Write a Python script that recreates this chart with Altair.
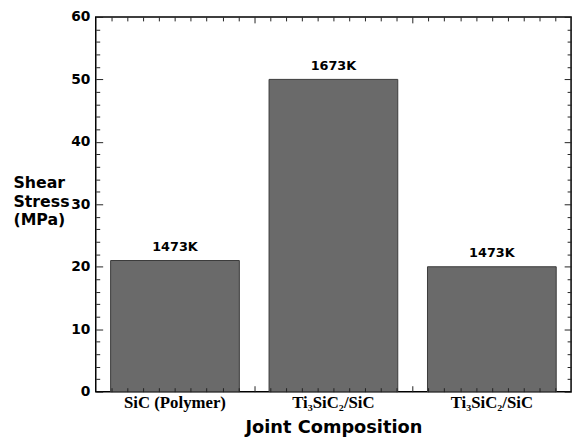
import json
import altair as alt
import pandas as pd

categories = ["SiC (Polymer)", "Ti₃SiC₂/SiC", "Ti₃SiC₂/SiC"]
stress = [21, 50, 20]
temps = ["1473K", "1673K", "1473K"]

y_major = [0, 10, 20, 30, 40, 50, 60]
y_minor = [2, 4, 6, 8, 12, 14, 16, 18, 22, 24, 26, 28, 32, 34, 36, 38,
           42, 44, 46, 48, 52, 54, 56, 58]
x_major = [1, 2]
x_minor = [0.1, 0.2, 0.3, 0.4, 0.5, 0.6, 0.7, 0.8, 0.9,
           1.1, 1.2, 1.3, 1.4, 1.5, 1.6, 1.7, 1.8, 1.9,
           2.1, 2.2, 2.3, 2.4, 2.5, 2.6, 2.7, 2.8, 2.9]

df = pd.DataFrame({"idx": list(range(len(categories))), "cat": categories,
                   "stress": stress, "temp": temps})
dummy = pd.DataFrame({"v": [0]})

SANS = "DejaVu Sans"
SERIF = "Liberation Serif"
label_expr = json.dumps(categories, ensure_ascii=False) + "[datum.value]"
TICK = "#222222"

bars = alt.Chart(df).mark_bar(color="#6a6a6a", stroke="#3a3a3a", strokeWidth=1).encode(
    x=alt.X("idx:O",
            scale=alt.Scale(paddingInner=0.1875, paddingOuter=0.09375),
            axis=alt.Axis(orient="bottom", labelExpr=label_expr, labelAngle=0,
                          ticks=False, domain=False, grid=False,
                          labelFont=SERIF, labelFontWeight="bold", labelFontSize=17,
                          labelColor="black", labelPadding=3,
                          title="Joint Composition", titleFont=SANS,
                          titleFontSize=18, titleFontWeight="bold",
                          titleColor="black", titlePadding=8)),
    y=alt.Y("stress:Q",
            scale=alt.Scale(domain=[0, 60], nice=False, zero=True),
            axis=alt.Axis(orient="left", values=y_major, tickSize=7, offset=-7,
                          tickColor=TICK, tickWidth=1, domain=False, grid=False,
                          labelFont=SANS, labelFontWeight="bold", labelFontSize=14,
                          labelColor="black", labelPadding=6, zindex=1,
                          title=["Shear", "Stress", "(MPa)"], titleAngle=0,
                          titleAlign="left", titleBaseline="top",
                          titleFont=SANS, titleFontSize=16, titleFontWeight="bold",
                          titleColor="black", titleLineHeight=19,
                          titleX=-91, titleY=160)),
)

texts = alt.Chart(df).mark_text(baseline="bottom", dy=-7, font=SANS,
                                fontWeight="bold", fontSize=13, color="black").encode(
    x=alt.X("idx:O"),
    y=alt.Y("stress:Q"),
    text="temp:N",
)

main = alt.layer(bars, texts)


def xticks(orient, values, size):
    return alt.Chart(dummy).mark_point(opacity=0).encode(
        x=alt.X("v:Q", scale=alt.Scale(domain=[0, 3], nice=False, zero=False),
                axis=alt.Axis(orient=orient, values=values, tickSize=size,
                              offset=-size, labels=False, domain=False, grid=False,
                              tickColor=TICK, tickWidth=1, title=None, zindex=1)))


def yticks(orient, values, size):
    return alt.Chart(dummy).mark_point(opacity=0).encode(
        y=alt.Y("v:Q", scale=alt.Scale(domain=[0, 60], nice=False, zero=False),
                axis=alt.Axis(orient=orient, values=values, tickSize=size,
                              offset=-size, labels=False, domain=False, grid=False,
                              tickColor=TICK, tickWidth=1, title=None, zindex=1)))


chart = alt.layer(
    main,
    yticks("left", y_minor, 4),
    yticks("right", y_major, 7),
    yticks("right", y_minor, 4),
    xticks("top", x_major, 6),
    xticks("top", x_minor, 4),
    xticks("bottom", x_major, 6),
    xticks("bottom", x_minor, 4),
).resolve_scale(x="independent", y="independent").properties(
    width=482, height=380,
    autosize=alt.AutoSizeParams(type="none"),
    padding={"left": 89, "top": 6, "right": 5, "bottom": 49},
    background="white",
).configure_view(stroke="black", strokeWidth=1.5)

chart.save("out.html", embed_options={"renderer": "svg", "actions": False})
